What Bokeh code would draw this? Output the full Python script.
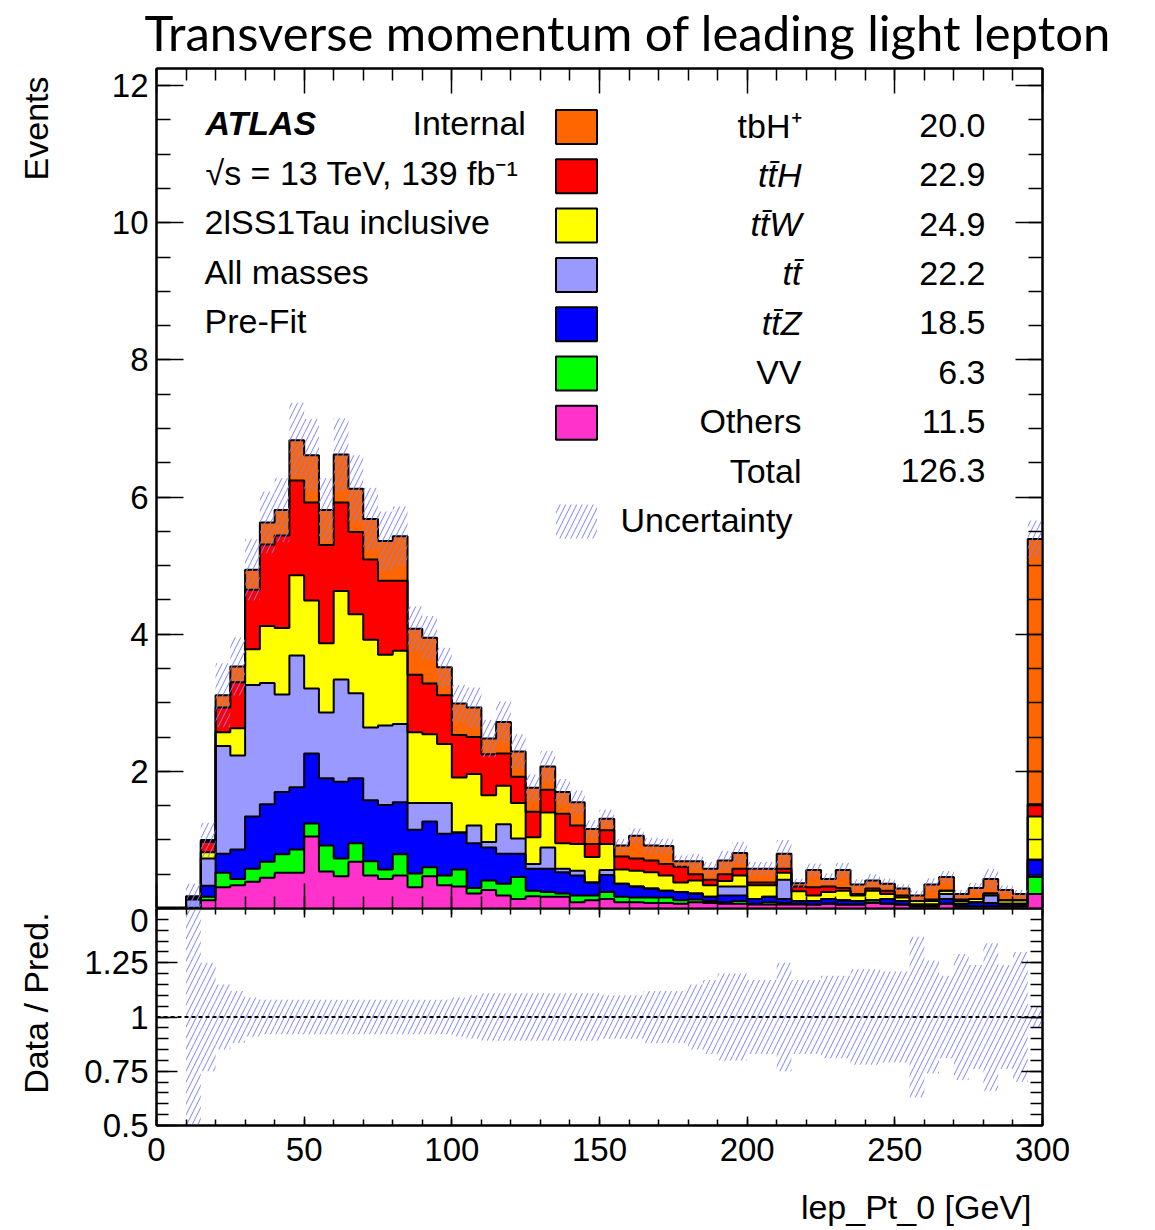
import numpy as np
from bokeh.plotting import figure
from bokeh.models import Range1d, LinearAxis, FixedTicker, Label, Span
from bokeh.layouts import column, row
from bokeh.embed import file_html
from bokeh.resources import INLINE

# ---------------- data ----------------
bin_low = list(range(0, 300, 5))   # 5 GeV bins, last bin = overflow
bin_width = 5

others = [0, 0, 0, 0.12, 0.31, 0.34, 0.39, 0.45, 0.52, 0.52,
          1.05, 0.54, 0.47, 0.68, 0.48, 0.43, 0.48, 0.31, 0.47, 0.34,
          0.32, 0.22, 0.27, 0.19, 0.14, 0.18, 0.17, 0.17, 0.09, 0.12,
          0.14, 0.09, 0.09, 0.08, 0.08, 0.07, 0.09, 0.08, 0.07, 0.07,
          0.06, 0.06, 0.06, 0.06, 0.06, 0.07, 0.06, 0.06, 0.08, 0.07,
          0.06, 0.03, 0.03, 0.07, 0.03, 0.03, 0.03, 0.03, 0.03, 0.21]
vv = [0, 0, 0, 0.05, 0.21, 0.09, 0.19, 0.23, 0.27, 0.34,
      0.19, 0.38, 0.26, 0.27, 0.21, 0.14, 0.31, 0.20, 0.13, 0.14,
      0.25, 0.08, 0.14, 0.17, 0.32, 0.08, 0.07, 0.05, 0.10, 0.07,
      0.10, 0.08, 0.07, 0.08, 0.08, 0.05, 0.04, 0.03, 0.02, 0.04,
      0.01, 0.03, 0.02, 0.01, 0.00, 0.00, 0.00, 0.00, 0.04, 0.00,
      0.00, 0.00, 0.00, 0.00, 0.00, 0.00, 0.00, 0.00, 0.00, 0.25]
ttz = [0, 0, 0.01, 0.16, 0.28, 0.43, 0.76, 0.84, 0.91, 0.91,
       1.02, 0.98, 1.12, 0.95, 0.89, 0.94, 0.76, 0.64, 0.67, 0.61,
       0.54, 0.65, 0.48, 0.44, 0.34, 0.32, 0.34, 0.31, 0.29, 0.19,
       0.25, 0.19, 0.16, 0.13, 0.10, 0.12, 0.09, 0.06, 0.10, 0.08,
       0.07, 0.08, 0.06, 0.04, 0.05, 0.07, 0.06, 0.05, 0.00, 0.07,
       0.05, 0.03, 0.03, 0.07, 0.04, 0.06, 0.05, 0.04, 0.04, 0.25]
ttbar = [0, 0, 0.12, 0.40, 1.57, 1.37, 1.92, 1.77, 1.42, 1.92,
         0.95, 0.96, 1.49, 1.24, 1.06, 1.16, 1.14, 0.39, 0.27, 0.45,
         0.00, 0.26, 0.08, 0.43, 0.22, 0.07, 0.31, 0.05, 0.07, 0.00,
         0.07, 0.00, 0.00, 0.00, 0.00, 0.00, 0.00, 0.00, 0.13, 0.13,
         0.00, 0.00, 0.28, 0.00, 0.00, 0.00, 0.00, 0.00, 0.00, 0.00,
         0.00, 0.00, 0.00, 0.07, 0.00, 0.00, 0.11, 0.00, 0.00, 0.00]
ttw = [0, 0, 0.01, 0.09, 0.20, 0.40, 0.52, 0.83, 0.97, 1.17,
       1.28, 1.01, 1.29, 1.15, 1.28, 1.03, 1.07, 1.03, 1.00, 0.86,
       0.80, 0.75, 0.68, 0.56, 0.52, 0.39, 0.51, 0.37, 0.39, 0.37,
       0.38, 0.21, 0.23, 0.24, 0.22, 0.14, 0.19, 0.17, 0.08, 0.16,
       0.20, 0.17, 0.10, 0.14, 0.08, 0.10, 0.14, 0.08, 0.14, 0.07,
       0.05, 0.05, 0.05, 0.05, 0.04, 0.05, 0.03, 0.05, 0.05, 0.63]
tth = [0, 0, 0.02, 0.15, 0.36, 0.67, 0.87, 1.19, 1.35, 1.38,
       1.43, 1.43, 1.29, 1.20, 1.17, 1.08, 1.02, 0.84, 0.74, 0.71,
       0.62, 0.54, 0.60, 0.47, 0.38, 0.37, 0.33, 0.43, 0.27, 0.19,
       0.20, 0.19, 0.18, 0.17, 0.17, 0.23, 0.09, 0.08, 0.10, 0.10,
       0.04, 0.04, 0.06, 0.07, 0.12, 0.08, 0.04, 0.02, 0.03, 0.05,
       0.03, 0.00, 0.02, 0.00, 0.02, 0.00, 0.00, 0.00, 0.00, 0.18]
tbh = [0, 0, 0.02, 0.03, 0.18, 0.23, 0.29, 0.32, 0.37, 0.59,
       0.69, 0.51, 0.70, 0.63, 0.59, 0.58, 0.65, 0.67, 0.67, 0.41,
       0.46, 0.43, 0.23, 0.46, 0.37, 0.35, 0.34, 0.32, 0.34, 0.22,
       0.17, 0.16, 0.33, 0.22, 0.26, 0.08, 0.19, 0.16, 0.20, 0.23,
       0.20, 0.20, 0.22, 0.05, 0.25, 0.11, 0.26, 0.14, 0.12, 0.10,
       0.10, 0.08, 0.22, 0.20, 0.08, 0.16, 0.21, 0.15, 0.09, 3.87]
# relative uncertainty of the total prediction per bin
rel_unc = [0, 0, 1.00, 0.25, 0.15, 0.12, 0.09, 0.08, 0.08, 0.08,
           0.08, 0.08, 0.08, 0.08, 0.08, 0.08, 0.08, 0.08, 0.08, 0.08,
           0.09, 0.10, 0.11, 0.11, 0.11, 0.11, 0.11, 0.11, 0.11, 0.11,
           0.10, 0.10, 0.10, 0.12, 0.12, 0.12, 0.15, 0.17, 0.20, 0.20,
           0.17, 0.17, 0.25, 0.17, 0.17, 0.19, 0.19, 0.22, 0.22, 0.21,
           0.21, 0.37, 0.26, 0.19, 0.29, 0.24, 0.34, 0.24, 0.30, 0.05]

legend_labels = ["tbH\u207a", "tt\u0304H", "tt\u0304W", "tt\u0304", "tt\u0304Z", "VV", "Others"]
legend_italic = [False, True, True, True, True, False, False]
legend_yields = ["20.0", "22.9", "24.9", "22.2", "18.5", "6.3", "11.5"]
total_yield = "126.3"
stack_bottom_to_top = [others, vv, ttz, ttbar, ttw, tth, tbh]
colors_bottom_to_top = ["#ff33cc", "#00ff00", "#0000ff", "#9999ff", "#ffff00", "#ff0000", "#ff6600"]
legend_colors = ["#ff6600", "#ff0000", "#ffff00", "#9999ff", "#0000ff", "#00ff00", "#ff33cc"]

x_ticks = [0, 50, 100, 150, 200, 250, 300]
y_ticks = [2, 4, 6, 8, 10, 12]          # the "0" is shown at the top of the ratio axis
r_ticks = [0.5, 0.75, 1.0, 1.25, 1.5]

FONT = "Liberation Sans"
TICK_FS = "33px"
TXT_PX = 34
HATCH = "#8080ff"
SHIFT = 0.38      # Label anchor sits this many em above the glyph baseline

W = 1140          # total width
SW = 60           # width of the left strip holding the vertical axis titles
PW = W - SW       # width of the plotting figures
LEFT = 156 - SW   # left border of the plotting figures (frame starts at x=156)
RIGHT = PW - LEFT - 886
TOP_H = 67        # title strip
MAIN_H = 841      # 1 px border + 840 px frame
RAT_H = 277       # 217 px frame + 60 px for tick labels
XL_H = 43         # strip for the x-axis title


def style_axis(ax, major_in, minor_in, show_labels):
    ax.major_tick_in = major_in
    ax.major_tick_out = 0
    ax.minor_tick_in = minor_in
    ax.minor_tick_out = 0
    ax.axis_line_width = 2
    ax.axis_line_color = "black"
    ax.major_tick_line_width = 1.5
    ax.minor_tick_line_width = 1.5
    ax.major_tick_line_color = "black"
    ax.minor_tick_line_color = "black"
    ax.major_label_text_font = FONT
    ax.major_label_text_font_size = TICK_FS
    ax.major_label_standoff = 8 if show_labels else 0
    ax.major_label_text_color = "black" if show_labels else None
    ax.axis_label = None


def lab(fig, x, y, text, size=TXT_PX, align="left", style="normal", angle=0.0, font=FONT):
    fig.add_layout(Label(x=x, y=y, text=text, text_font=font, text_font_size=f"{size}px",
                         text_align=align, text_baseline="alphabetic",
                         text_font_style=style, text_color="black", angle=angle))


def strip(w, h):
    s = figure(width=w, height=h, x_range=Range1d(0, w), y_range=Range1d(0, h),
               output_backend="svg", toolbar_location=None,
               x_axis_location=None, y_axis_location=None,
               min_border_left=0, min_border_right=0, min_border_top=0, min_border_bottom=0)
    s.outline_line_color = None
    s.background_fill_color = "white"
    s.border_fill_color = "white"
    s.xgrid.visible = False
    s.ygrid.visible = False
    return s


# ---------------- title strip ----------------
t_strip = strip(W, TOP_H)
lab(t_strip, 144, TOP_H - (50 - SHIFT * 49), "Transverse momentum of leading light lepton",
    size=49, font="Lato")

# ---------------- main panel ----------------
p = figure(width=PW, height=MAIN_H, x_range=Range1d(0, 300), y_range=Range1d(0, 12.25),
           output_backend="svg", toolbar_location=None,
           x_axis_location=None, y_axis_location=None,
           min_border_left=LEFT, min_border_right=RIGHT, min_border_top=1, min_border_bottom=0)
p.background_fill_color = "white"
p.border_fill_color = "white"
p.outline_line_color = "black"
p.outline_line_width = 2
p.xgrid.visible = False
p.ygrid.visible = False

xs = np.array(bin_low + [bin_low[-1] + bin_width], dtype=float)
cum = np.zeros(len(bin_low))
tops = []
for vals, col in zip(stack_bottom_to_top, colors_bottom_to_top):
    bottom = cum.copy()
    cum = cum + np.array(vals, dtype=float)
    p.varea_step(x=xs, y1=np.append(bottom, bottom[-1]), y2=np.append(cum, cum[-1]),
                 step_mode="after", fill_color=col, fill_alpha=1.0)
    tops.append(cum.copy())
for t in tops:
    p.step(x=xs, y=np.append(t, t[-1]), mode="after", line_color="black", line_width=2)

total = tops[-1]
unc = np.array(rel_unc)
left = np.array(bin_low, dtype=float)
mask = total > 0
p.quad(left=left[mask], right=left[mask] + bin_width,
       bottom=(total * (1 - unc))[mask], top=(total * (1 + unc))[mask],
       fill_alpha=0, line_color=None, hatch_pattern="/", hatch_color=HATCH,
       hatch_weight=1, hatch_scale=11)

xt = FixedTicker(ticks=x_ticks, minor_ticks=list(range(0, 301, 10)))
yt = FixedTicker(ticks=y_ticks, minor_ticks=list(np.arange(0, 12.01, 0.5)))
ax_l = LinearAxis(ticker=yt)
style_axis(ax_l, 27, 14, True)
ax_r = LinearAxis(ticker=yt)
style_axis(ax_r, 27, 14, False)
ax_b = LinearAxis(ticker=xt)
style_axis(ax_b, 25, 12, False)
ax_t = LinearAxis(ticker=xt)
style_axis(ax_t, 25, 12, False)
p.add_layout(ax_l, "left")
p.add_layout(ax_r, "right")
p.add_layout(ax_b, "below")
p.add_layout(ax_t, "above")

# texts inside the frame (positions given as page pixels of the reference, baselines)
px_per_x = 886 / 300.0
px_per_y = 840 / 12.25


def dx(px):
    return (px - 156) / px_per_x


def dy(py):
    return (908 - py) / px_per_y


def by(baseline_py, size=TXT_PX):
    return dy(baseline_py - SHIFT * size)


lab(p, dx(205), by(135), "ATLAS", style="bold italic")
lab(p, dx(412), by(135), "Internal")
lab(p, dx(205), by(185), "\u221As = 13 TeV, 139 fb\u207b\u00b9")
lab(p, dx(204), by(234), "2lSS1Tau inclusive")
lab(p, dx(204), by(284), "All masses")
lab(p, dx(204), by(333), "Pre-Fit")

row_base = [138 + 49.3 * i for i in range(9)]
box_x = [dx(576)] * 7
box_y = [dy(b - 11.5) for b in row_base[:7]]
p.rect(x=box_x, y=box_y, width=41, height=34, width_units="screen", height_units="screen",
       fill_color=legend_colors, line_color="black", line_width=2)
for i, (name, it, yld) in enumerate(zip(legend_labels, legend_italic, legend_yields)):
    lab(p, dx(801), by(row_base[i]), name, align="right", style="italic" if it else "normal")
    lab(p, dx(985), by(row_base[i]), yld, align="right")
lab(p, dx(801), by(row_base[7]), "Total", align="right")
lab(p, dx(985), by(row_base[7]), total_yield, align="right")
p.rect(x=[dx(576)], y=[dy(row_base[8] - 11.5)], width=41, height=34, width_units="screen",
       height_units="screen", fill_alpha=0, line_color=None, hatch_pattern="/",
       hatch_color=HATCH, hatch_weight=1, hatch_scale=11)
lab(p, dx(620), by(row_base[8]), "Uncertainty")

s1 = strip(SW, MAIN_H)
lab(s1, 48 - SHIFT * TXT_PX, 908 - 75, "Events", align="right", angle=np.pi / 2)

# ---------------- ratio panel ----------------
r = figure(width=PW, height=RAT_H, x_range=p.x_range, y_range=Range1d(0.5, 1.5),
           output_backend="svg", toolbar_location=None,
           x_axis_location=None, y_axis_location=None,
           min_border_left=LEFT, min_border_right=RIGHT, min_border_top=0,
           min_border_bottom=RAT_H - 217)
r.background_fill_color = "white"
r.border_fill_color = "white"
r.outline_line_color = "black"
r.outline_line_width = 2
r.xgrid.visible = False
r.ygrid.visible = False

r.quad(left=left[mask], right=left[mask] + bin_width,
       bottom=(1 - unc)[mask], top=(1 + unc)[mask],
       fill_alpha=0, line_color=None, hatch_pattern="/", hatch_color=HATCH,
       hatch_weight=1, hatch_scale=11)
r.add_layout(Span(location=1.0, dimension="width", line_color="black", line_width=2,
                  line_dash="4 3"))

rt = FixedTicker(ticks=r_ticks, minor_ticks=list(np.arange(0.5, 1.501, 0.05)))
rax_l = LinearAxis(ticker=rt)
style_axis(rax_l, 21, 12, True)
rax_l.major_label_overrides = {0.5: "0.5", 0.75: "0.75", 1.0: "1", 1.25: "1.25", 1.5: "0"}
rax_r = LinearAxis(ticker=rt)
style_axis(rax_r, 21, 12, False)
rax_b = LinearAxis(ticker=xt)
style_axis(rax_b, 9, 6, True)
rax_b.major_label_standoff = 12
rax_t = LinearAxis(ticker=xt)
style_axis(rax_t, 9, 6, False)
r.add_layout(rax_l, "left")
r.add_layout(rax_r, "right")
r.add_layout(rax_b, "below")
r.add_layout(rax_t, "above")

s2 = strip(SW, RAT_H)
lab(s2, 48 - SHIFT * TXT_PX, RAT_H - (913 - 908), "Data / Pred.", align="right",
    angle=np.pi / 2)

# ---------------- x-axis title strip ----------------
x_strip = strip(W, XL_H)
x_top = 908 + RAT_H
lab(x_strip, 1031, XL_H - (1219 - SHIFT * TXT_PX - x_top), "lep_Pt_0 [GeV]", align="right")

layout = column(t_strip, row(s1, p, spacing=0), row(s2, r, spacing=0), x_strip, spacing=0)
open("out.html", "w").write(file_html(layout, INLINE))
